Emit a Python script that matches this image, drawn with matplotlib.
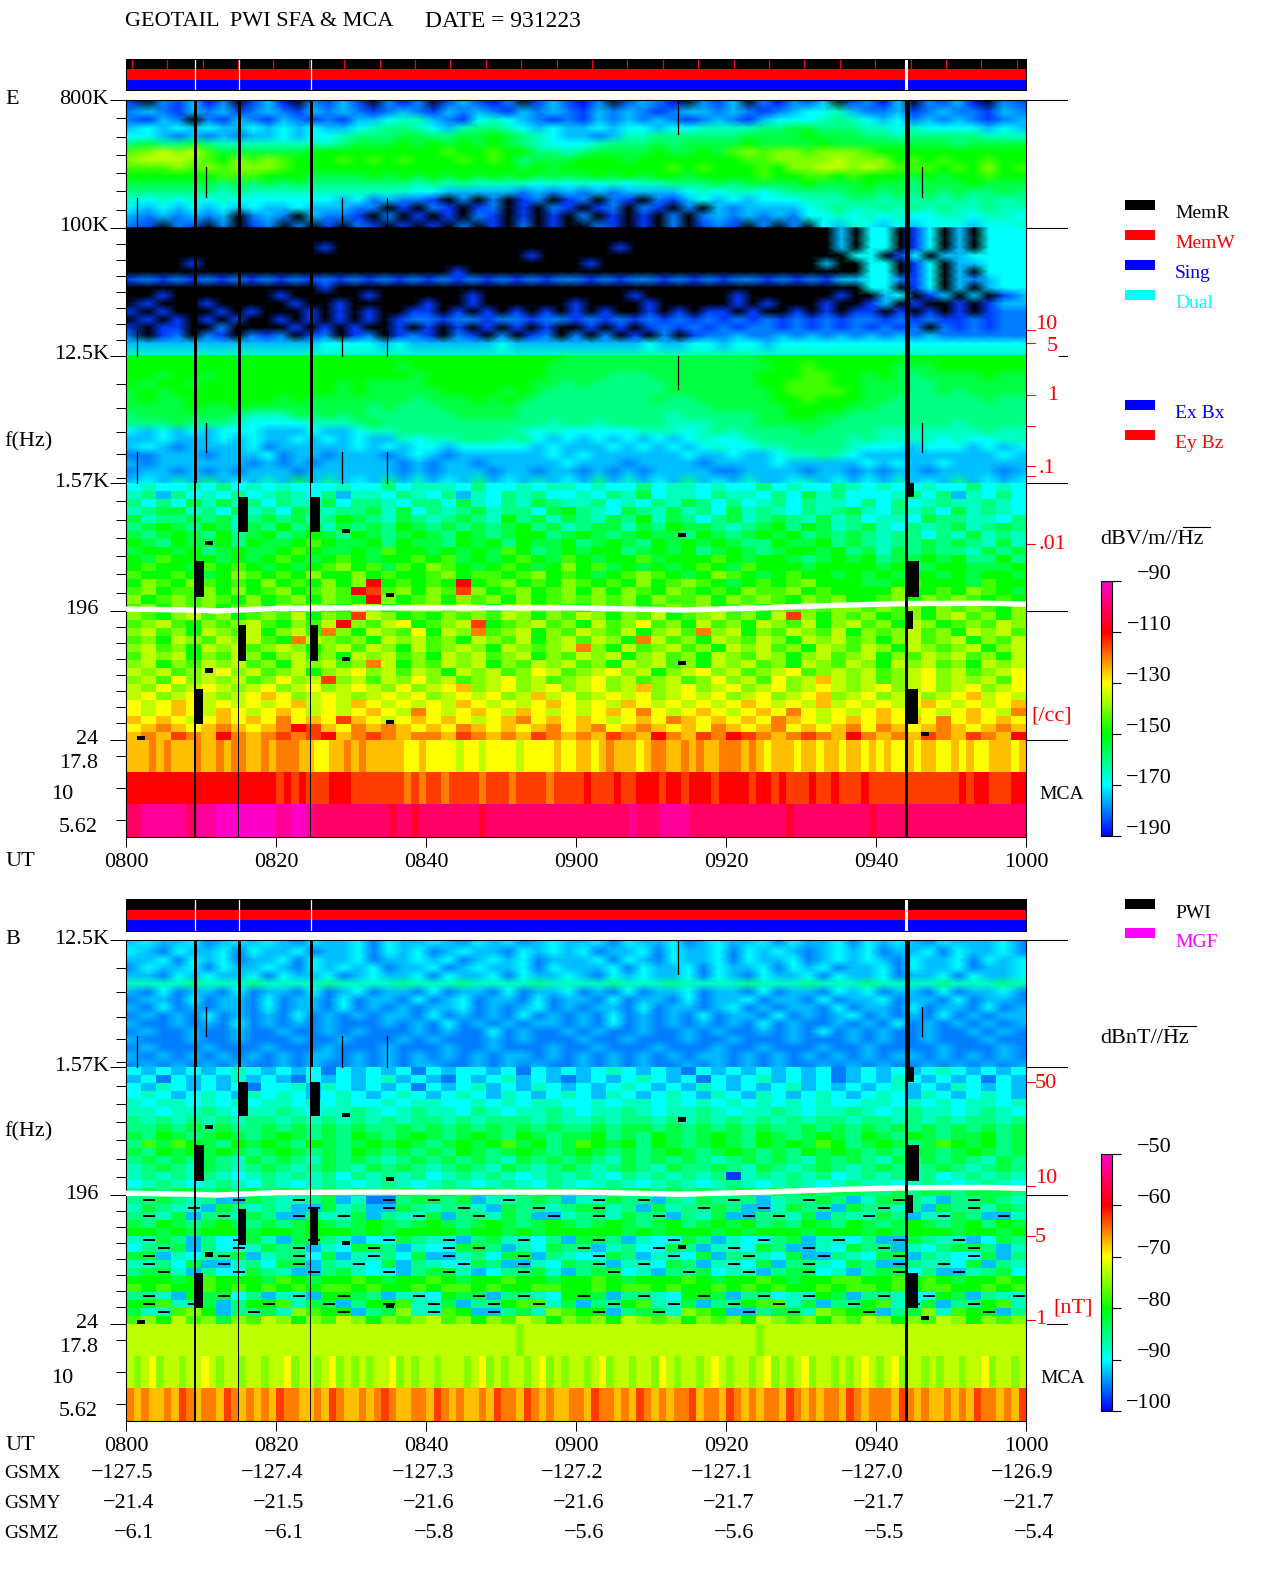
import numpy as np
import matplotlib
matplotlib.use("Agg")
import matplotlib.pyplot as plt
from matplotlib.colors import LinearSegmentedColormap, Normalize
from matplotlib.lines import Line2D
from matplotlib.patches import Rectangle

W, H = 1280, 1593
plt.rcParams['font.family'] = ['Liberation Serif', 'DejaVu Serif']

# ---- data: cell levels (0..k = bottom..top of colour bar, '.' = no signal/black)
E_HF_UPPER_ROWS = [
"1.21302.13 0.2131.202 .13102.131 02.1320.21 3.20213.12 03.2130.21",
"2321323123 2132321232 1323213232 1323212332 3212344532 2312322132",
"2132.21321 3212133455 3214543212 1323232123 2134445654 3423232123",
"3434343343 4343345665 4356654343 3434434455 5566776665 5454444343",
"4432323233 4344566677 6677876543 3235566666 6777787776 6566666555",
"6766765555 5555677787 8787876544 4566676777 7877778777 7777767777",
"9abab97777 7788888888 8988988665 6777787787 9a9aa9aaa9 8888888888",
"abbba98a9a 9888989898 8898986777 8887888888 899aaaabaa a898988988",
"999a9a9aaa 9888888888 8888887878 8888889898 8898aabbab a999898a89",
"8888889998 8877778787 8787878777 7878788788 8898899898 8878788988",
"7777776767 6766666665 6565555454 5454556667 6777787778 7767778777",
"6666665655 5555555554 4333332323 2323333454 5545666677 6767676676",
"5454545444 4444342322 1.2.2.12.1 2.21.21343 4344455566 5656565656",
"4343434343 3433322.1. 21.12.1.21 .12.21.2.3 2333345655 6565655655",
"3232323.23 2.3221.2.1 .1.21.1.1. 2.1.1.2.23 2323244545 4544554554",
"21.21.2.12 .2.1.21.1. 1.2.1.2.1. .21.1.2.12 1.2.2.4354 3434443445",
]
E_HF_LOWER_ROWS = [
".......... .......... .......... .......... ........3. 44.14.3.44",
".......... .......... .......... .......... ........3. 44.14.3.44",
".......... ...1...... .......... ...1...... ........3. 44.14.3.44",
".......... .......... .......1.. .......... ......... 44.14.3344",
"....1..... .......... .......... .1........ .......3.. 44.14.3344",
".......... .......... ..1....... .......... .......... 44.14.3.44",
"1212121212 1212121212 1212121212 2121221212 1221212133 44214.3234",
".......... ...1...... .......... .......... .......... 44.14.3.34",
"..1....... 1.....1... ...1....... ...1...... 1......1.. 34.13.3.13",
".1...1.... .1..1..... 1..1...... 1....1.... .1.1...1.. 13.1..1.13",
"1.1...1.1. ..1.1.1..1 1.1.1.1.1. 1.1..1.1.1 1.1..1.1.1 1.1.1.1.12",
".1.1.1.1.. 1.1.1.1.12 2122122122 1212121212 1212121212 2121211212",
"1.11..2... .1.1.1..1. 1.1.1.1.1. .1.1.12121 2122121212 1212.21212",
"2.12.21.21 2.12.12.12 1.21.2.12. 2.2.1.2.12 2322323232 3232322222",
"3333333333 3334444343 3333343333 3333343344 3443444444 4444444444",
"5555555555 5555555555 5555555555 5555555555 5555555555 5555555555",
]
E_MF_ROWS = [
"8888888888 8888888888 8888888887 7777777777 7788888888 8888888888",
"8888888888 8888888878 8888888877 7777777777 7778898888 8777888888",
"8878878888 8888888887 8888888877 7766677777 7788899887 8767777877",
"8788788888 8888787777 8888888776 7666667777 7788999887 7766777777",
"7878888888 8888787777 7888878766 6666667777 7778999987 7766767777",
"7877888888 7877777776 7778787666 6666676677 7778898887 7666666766",
"7777877877 7777776766 6777776666 6666666667 7777888877 6666666666",
"6777777655 5767676666 6677776666 6666665666 6677887766 6666666666",
"6667666544 4455567666 6666666656 6566665556 6677777666 6666656666",
"4343434443 3343345566 6666665454 4444555456 5666676666 5555555655",
"3343334343 3434343354 5566656434 3434343454 4566666656 5555454455",
"3432333342 3333343434 4344444343 3343434345 4455666654 4434443434",
"2233323334 2332333234 3233333343 4333333433 4334556543 3333333343",
"3233333323 2323333323 2332333334 3332333323 3334333334 3433433333",
"2332323233 3233333323 2333233233 2323233332 2333323323 2332333323",
"3435363435 3736343635 3436343534 3635343634 3533453434 3534363434",
]
E_LF_ROWS = [
"4544546454 5444544645 5546445455 4544645545 4464544654 5445446454",
"5636454645 6546355465 4635465644 5465745546 5546475644 4564635464",
"6464757564 6557466546 6475465765 5645465764 6456465546 4645655654",
"5677564756 4765667574 6567566478 6547657564 7565465675 4656475654",
"7566767567 6756876576 5676586757 6576857646 7567657564 5547665546",
"6787687576 8675767687 6767678675 6775768776 5678687567 5465675676",
"7678768678 6787687678 7687678867 8767877687 6787867676 5664657565",
"8768778687 7898778687 7687868778 6787687878 7668778676 5667676575",
"7887867877 8987787988 7878798678 7886787867 8767887867 5767665767",
"8798887878 9878987889 8978789879 8788978889 8788767878 6778786686",
"8988798987 8789a89798 a98789878a 8978787898 7988878888 7867887778",
"9889878a98 98a88a8988 9a89989a89 8789a9878a 9878988787 8788787887",
"8a98a9898a 898a8ag898 98g89a898a 9898a89a98 78989a8887 7898887988",
"9a899a8a89 a89a9gf9a8 a9fa89a89a 8a8a98a989 8a99a89888 8a8898a987",
"a89a9a98a8 9a8a98ga89 a8a9a8a89a 9a9a8a99a8 a9a98a9a88 9a8a9a9898",
"9a8a9a89a8 a9a98ba89a a9ba8ab9a9 8a9a89a9a8 9a8a9a9aa9 a9a8a9a98a",
"a98ab9a89a 9b8a9fba89 8a9a9ba8a9 ba8a9b89ab 9a8bfa8a9a 89a8ab9a8a",
"9ab98a9ab9 8a9bga9bc8 9abf89ab9a 8b9ac9a8b9 a8ba9b8ab9 a8ba89a9ba",
"ab9a8ba9b8 ab9ea8ba9c 8bae9ab8a9 ba9b8ab9ea b8a9ba9b8a 9ab9a8bab9",
"9a8ba9bab9 8eba9a8bab 9a8ba9b8ab 9ba8eb9a8b a9ba8bab9a 8ab9ab8a9b",
"ab9a8bab9a ba8ab9ba8b 9aba8ba9ab ea8b9ab9a8 bab9a8ba9b a8ba9ab8ab",
"9bab8a9ba8 ab9a8bab9a 8bab9ab8a9 bab8ab9a8b a9ba8ab9ab 8a9bab9a8b",
"ab8a9bab9a 8bab9aeb8a 9bab8a9bab 9a8bab9a8b ab9a8ba9ba 8bab9a8bab",
"bab9abcab9 ab8abcab9b a8bab9acb9 abcab8abca b9abc9abab 9abcab9abc",
"ab9cabab9a cabfab9bac ab9abcab9a bcab9ab9ac ab9cabdbab 9abcabab9c",
"bacabcbabc abcabcbaca bcdabcabca bcabdabcab cabcabcbab cabcabcabc",
"bcabcbabcd cabcbabcbc abcbcabdbc abcbcabcbc abcabcdabc abcabcdbcb",
"cbcdcbcbcb cdbcbdcbcb cbdcbcbcdc bcbdcbcbcb cdcbcbdbcb cbcdcbcbcd",
"cbcdcbdcbc dcbcbcdcbe cbcdcbdcbc bcdcecbcdc bcdcecbcbc dcbcbcdcbe",
"dcdcbcdcdc ecdcfdcbcd cdcbcdecdc dcbcdcedcd cdcedcbcdc dcdcecdcdc",
"cdedcdedcd egfdcededc dcedcdcdec decdedcdce dcdecdcdec edcdedcded",
"dedfedgede fefgdefede edfededfed edfedgedfe gfedefedge dedfedfedg",
]
E_MCA_ROWS = [
"dddededdde ddedeedded eeeddccdde dedddddccd ccccbccbcc ccbccccdcc ddcdedddcd eeddededde eededcdddc ddcddcddcd cdccdcddcc dcdccdddcd",
"gggggggggg gggggggggg fgfgfffggg fffffffefe ffeffffeff feffffefff fgfffgffgg gfggfgggfg gggfggfgff fgffgfffgf ffffffffff fgfggfffgg",
"iijjjjjjij jjkkkkkkkk jjkkjiiiii iiiiihiihi iiiiiiihii iiiiiiiiii iiiiiiijii ijjjjiiiii iiiiiiiihi iiiiiiiiih iiiiiiiiii iiiiiiiiii",
]
B_HF_ROWS = [
"3433423434 3243342433 4324342343 3424334234 3342433424 3432433342",
"4324334243 3423342434 2343324343 4233424334 2434323434 2334243342",
"3342434233 4243342334 3423434233 3424324334 2433423434 3243342434",
"2433424334 3243434233 4234334243 3342433424 3342434233 4243342334",
"3324343342 4334234334 2433424334 3243433424 3243342433 4233424334",
"5555655565 5556555565 5565555655 5565556555 5655565556 5555655565",
"3242332423 3242342332 4233242334 2324233423 3242332434 2332423342",
"2332423324 2332423324 2342332423 3242332423 3423324233 4233242332",
"3242323324 2332423232 3342323423 2332423323 4232332423 3242332423",
"2323242323 2423232332 4232324232 3242323242 3324232342 3232423233",
"3223232423 2323222323 2423232332 3242323232 3242322323 2423232323",
"2322322322 3223232223 2322423223 2322322323 2232324232 3223223232",
"3222322322 2322322232 3222323222 3223222322 3222322232 3223222322",
"2322232223 2223222322 2322322232 2322232223 2232223223 2222322232",
"3232323232 3233232323 2323233232 3232323233 2323232323 2332323232",
"2323232322 3232232323 3223232322 3232322323 2323223232 3223232323",
]
B_LF_ROWS = [
"4343434543 4342434342 4344342434 3454343243 4343434234 3434543434",
"3424343534 3243434534 3243453432 3434543424 3453434234 3543434243",
"4354343424 4535434342 4345343543 4345434354 3434534343 4534354343",
"4543454354 5434543454 3454354345 4354345435 4354345434 5435434543",
"5455454545 5454544545 5445454554 4545545454 5454545445 5454545545",
"5545565455 6545565456 5546545565 4556545565 4556545565 4565545654",
"6565656566 5656565656 6565666565 5656656565 6565656656 6565656656",
"6676767667 6767676676 7676767676 6767767676 7676676767 6767676767",
"7687678767 8767687678 7678768767 7867687678 7687678768 7687677867",
"6979876878 7687678787 6787897867 9878687678 7687879867 8767987867",
"7687878767 8767687676 7687678767 8767678767 8767687876 7687678767",
"6767676576 7657676567 6767657676 7657676765 6767657676 5767676576",
"5676576567 6567657676 5676576567 6567657667 6576567656 7656765676",
"5656565456 5656465656 4565654565 6546565656 1565656456 5656456565",
"4565456546 5456545654 5654565465 4565456545 6545654565 5456545654",
"6767767676 7767676776 6767767676 7767767676 7767676776 6767767776",
"6.76563.76 5.67352.67 .6735.6763 5.76.36576 .6356.7635 7.6536.765",
"5765.37656 53.7563.76 56.5376.56 7.563756.7 63.576.376 .56376.576",
"6.5736.576 3.65.7365. 736.5763.5 6.576.3657 3.6.57365. 7635.763.5",
"7687678767 6787678767 8767876787 6787678678 7867687687 6787678687",
"8878788878 8788878788 8878878788 8887878887 8788878887 8788878878",
"5.76364.75 37.6534.76 5.3675.463 7.6354.763 54.6735.46 3.765.3476",
"46.7364.57 6.3547.635 4.7.635476 .3564.7635 .4763.5476 .35467.635",
"7.3546.735 6.4735.647 3.5647.365 4.7635.473 6.5473.654 7.3654.736",
"5.6473.564 7.365.4736 54.763.547 6.35.47635 .4736.5476 3.65.47365",
"67.5364.76 53.6754.36 7.5346.753 67.4536.74 5.367.4536 7.463.5674",
"8887898887 9878898788 9878898878 8987888987 8898788998 8989878898",
"9898898989 8989989889 8998988998 8989989889 8989889899 8989988989",
"6.5387.463 5.38.7635. 487.36.548 .736.548.7 36.45.8736 .54.87365.",
"8.95.7368. 957.368.95 .736.89.57 36.895.736 .89.5736.8 95.736.895",
"75.9a836.7 5a98.367a5 .983.675a9 8.367.5a98 3.67.5a98. 367a598.36",
"9a8b9a7a9b a8a9ba8a9a b9a8a9ba8a 9a8ba9a8a9 a8ba9a8a9b a8a9ba8a9a",
]
B_MCA_ROWS = [
"bbbbbbbbbb bbbbbbbbbb bbbbbbbbbb bbbbbbbbbb bbbbbbbbbb bbabbbbbbb bbbbbbbbbb bbbbbbbbbb bbbbabbbbb bbbbbbbbbb bbbbbbbbbb bbbbbbbbbb",
"babcabbabb cbabbabbab bcabbabcab ababbcabab babbbabcab abbabcabab babcabbabb acbabbabcb abbabcabab cabbababcb abcabbabab babbcabbab",
"ededdedfed eedfededed feeddedfed dedefeddee dfededdedf eedfededde edfeededfe dedeefdeed fededeedfe dedeedfede eedfededde dedfeededf",
]
LEVELS = "0123456789abcdefghijk"

E_DB_RANGE = (-190, -90)
B_DB_RANGE = (-100, -50)
E_CB_TICKS = [-190, -170, -150, -130, -110, -90]
B_CB_TICKS = [-100, -90, -80, -70, -60, -50]

HOURS = ['0800', '0820', '0840', '0900', '0920', '0940', '1000']
TIME_TICKS = [0, 20, 40, 60, 80, 100, 120]
GSMX = ['\u2212127.5', '\u2212127.4', '\u2212127.3', '\u2212127.2', '\u2212127.1', '\u2212127.0', '\u2212126.9']
GSMY = ['\u221221.4', '\u221221.5', '\u221221.6', '\u221221.6', '\u221221.7', '\u221221.7', '\u221221.7']
GSMZ = ['\u22126.1', '\u22126.1', '\u22125.8', '\u22125.6', '\u22125.6', '\u22125.5', '\u22125.4']

# white trace: minutes after 0800, frequency in Hz
TRACE_T = [0, 9, 12, 20, 30, 40, 60, 70, 74, 85, 95, 104, 115, 120]
TRACE_F = [202, 199, 196, 204, 206, 206, 206, 201, 199, 206, 215, 221, 222, 219]

# data gaps: minute, widths at high and at low frequency
GAP_T = [9.07, 14.93, 24.53, 103.87]
GAP_W_HF = [0.35, 0.35, 0.35, 0.67]
GAP_W_LF = [0.2, 0.2, 0.2, 0.4]
# black blocks: t0, t1, f_low, f_high
BLOCKS = [
    (9.07, 10.4, 247, 443), (9.07, 10.2, 31, 55),
    (14.93, 16.27, 708, 1247), (14.93, 16.0, 87, 156),
    (24.53, 25.87, 708, 1247), (24.53, 25.6, 87, 156),
    (103.87, 105.73, 247, 443), (103.87, 105.6, 31, 55),
    (103.87, 105.0, 1247, 1570), (103.87, 104.9, 146, 196),
    (10.53, 11.6, 71, 78), (10.53, 11.6, 572, 612),
    (28.8, 29.87, 87, 93), (28.8, 29.87, 698, 743),
    (34.67, 35.73, 31, 33), (34.67, 35.73, 247, 264),
    (1.47, 2.53, 24, 25.6),
    (73.6, 74.67, 81, 87), (73.6, 74.67, 650, 698),
    (106.0, 107.07, 25.7, 27.5),
]
# thin instrument dropouts: minute, f_low, f_high
E_DROPS = [
    (1.47, 100e3, 162e3), (1.47, 12.5e3, 18.9e3), (1.47, 1.57e3, 2.6e3),
    (10.6, 165e3, 269e3), (10.6, 2.6e3, 4.2e3),
    (28.8, 100e3, 162e3), (28.8, 12.5e3, 18.9e3), (28.8, 1.57e3, 2.6e3),
    (34.8, 100e3, 162e3), (34.8, 12.5e3, 18.9e3), (34.8, 1.57e3, 2.6e3),
    (73.6, 460e3, 800e3), (73.6, 7.2e3, 12.5e3),
    (106.1, 165e3, 269e3), (106.1, 2.6e3, 4.2e3),
]
B_DROPS = [
    (1.47, 1.57e3, 2.6e3), (10.6, 2.6e3, 4.2e3), (28.8, 1.57e3, 2.6e3),
    (34.8, 1.57e3, 2.6e3), (73.6, 7.2e3, 12.5e3), (106.1, 2.6e3, 4.2e3),
]
MF_MINOR = [7900, 5350, 3590, 2500, 1700]
MCA_EDGES = [24, 13.34, 7.5, 4.2]
ANCHOR_F = [4.2, 5.62, 10, 17.8, 24, 800000]
ANCHOR_P = [-97, -80, -48, -16, 0, 640]
E_DENSITY = [('10', 18900), ('5', 15400), ('1', 6600), ('', 3960), ('.1', 2070), ('', 1750), ('.01', 584)]
B_DENSITY = [('50', 1247), ('10', 226), ('5', 100), ('1', 25.6)]
SFA_RED_TICK_T0, SFA_RED_TICK_STEP = 0.76, 4.72


def decode(rows, db_range):
    lo, hi = db_range
    out = []
    n = max(len(r.replace(' ', '')) for r in rows)
    for r in rows:
        s = r.replace(' ', '')
        s = (s + s[-1] * n)[:n]
        out.append([np.nan if c == '.' else lo + LEVELS.index(c) * (hi - lo) / 20 for c in s])
    return np.array(out)


cmap = LinearSegmentedColormap.from_list('geotail', [
    (0.0, (0, 0, 1)), (0.2, (0, 1, 1)), (0.4, (0, 1, 0)),
    (0.6, (1, 1, 0)), (0.8, (1, 0, 0)), (1.0, (1, 0, 200 / 255))], N=256)
cmap.set_bad('black')


def fwd(f):
    return np.interp(np.log2(np.maximum(f, 1e-3)), np.log2(ANCHOR_F), ANCHOR_P)


def inv(p):
    return 2 ** np.interp(p, ANCHOR_P, np.log2(ANCHOR_F))


fig = plt.figure(figsize=(W / 100, H / 100), dpi=100, facecolor='white')
FS = 16


def box(x0, y0, x1, y1):
    return fig.add_axes([x0 / W, 1 - y1 / H, (x1 - x0) / W, (y1 - y0) / H])


def txt(x, y, s, color='black', ha='left', size=FS):
    return fig.text(x / W, 1 - (y + 1.5) / H, s, color=color, ha=ha, va='center', fontsize=size)


def rect(x0, y0, x1, y1, color):
    fig.add_artist(Rectangle((x0 / W, 1 - y1 / H), (x1 - x0) / W, (y1 - y0) / H,
                             transform=fig.transFigure, color=color, lw=0))


def status_bar(y0, y1, red_ticks):
    a = box(126, y0, 1026, y1)
    a.set_xlim(0, 120)
    a.set_ylim(0, 3)
    for i, c in enumerate(['blue', 'red', 'black']):
        a.axhspan(i, i + 1, color=c, lw=0)
    if red_ticks:
        a.vlines(np.arange(SFA_RED_TICK_T0, 120, SFA_RED_TICK_STEP), 2, 3, color='red', lw=0.9)
    for t, lw in zip(GAP_T, [0.9, 0.9, 0.9, 2.2]):
        a.axvline(t + 0.1, color='white', lw=lw)
    a.set_xticks([])
    a.set_yticks([])
    for s in a.spines.values():
        s.set_linewidth(0.72)


def panel(y0, y1, fmax, blocks_of_rows, mca_rows, db_range, drops):
    ax = box(126, y0, 1026, y1)
    ax.set_facecolor('black')
    ax.set_yscale('function', functions=(fwd, inv))
    vmin, vmax = db_range
    norm = Normalize(vmin, vmax)
    mesh = None
    for rows, f_hi, f_lo, mode in blocks_of_rows:
        z = decode(rows, db_range)
        fe = np.geomspace(f_hi, f_lo, z.shape[0] + 1)
        te = np.linspace(0, 120, z.shape[1] + 1)
        if mode == 'smooth':
            # the reference resolves this band far finer than a readable grid: blend cell colours
            rgb = cmap(norm(np.ma.masked_invalid(z)))
            tc = 0.5 * (te[:-1] + te[1:])
            fc = np.sqrt(fe[:-1] * fe[1:])
            tc[0], tc[-1] = te[0], te[-1]
            fc[0], fc[-1] = fe[0], fe[-1]
            ax.pcolormesh(tc, fc, rgb, shading='gouraud')
        else:
            dash = np.isnan(z)
            if dash.any():
                filler = np.where(dash, np.roll(z, 1, axis=1), z)
                filler = np.where(np.isnan(filler), vmin + 0.2 * (vmax - vmin), filler)
                mesh = ax.pcolormesh(te, fe, filler, cmap=cmap, vmin=vmin, vmax=vmax, shading='flat')
                rr, cc = np.nonzero(dash)
                ax.hlines(np.sqrt(fe[rr] * fe[rr + 1]), te[cc] + 0.2, te[cc + 1] - 0.1,
                          color='black', lw=1.4, zorder=2)
            else:
                mesh = ax.pcolormesh(te, fe, z, cmap=cmap, vmin=vmin, vmax=vmax, shading='flat')
    z = decode(mca_rows, db_range)
    ax.pcolormesh(np.linspace(0, 120, z.shape[1] + 1), MCA_EDGES, z, cmap=cmap, vmin=vmin, vmax=vmax, shading='flat')
    ax.plot(TRACE_T, TRACE_F, color='white', lw=3.9, solid_capstyle='butt', zorder=3)
    for t0, t1, fl, fh in BLOCKS:
        ax.fill_between([t0, t1], fl, fh, color='black', lw=0, zorder=4)
    for t, wh, wl in zip(GAP_T, GAP_W_HF, GAP_W_LF):
        ax.fill_between([t, t + wh], 1570, fmax, color='black', lw=0, zorder=4)
        ax.fill_between([t, t + wl], 4.2, 1570, color='black', lw=0, zorder=4)
    for t, fl, fh in drops:
        ax.plot([t, t], [fl, fh], color='black', lw=0.9, zorder=4)
    ax.set_xlim(0, 120)
    ax.set_ylim(4.2, fmax)
    ax.set_xticks(TIME_TICKS, HOURS, fontsize=FS)
    ax.tick_params(axis='x', length=7.2, width=0.72, pad=4)
    for s in ax.spines.values():
        s.set_linewidth(0.8)
    return ax, mesh


def yticks(ax, fmax, right_short):
    majors = [f for f in [800000, 100000, 12500, 1570, 196, 24] if f <= fmax]
    mca = [17.8, 10, 5.62]
    ax.set_yticks(majors, [''] * len(majors))
    minors = list(mca) + list(MF_MINOR)
    minors += [196 * 8 ** (-i / 8) for i in range(1, 8)]
    minors += [1570 * (1570 / 196) ** (-i / 7) for i in range(1, 7)]
    if fmax > 12500:
        minors += [100000 * 8 ** (-i / 8) for i in range(1, 8)]
        minors += [800000 * 8 ** (-i / 7) for i in range(1, 7)]
    ax.set_yticks(minors, minor=True)
    ax.set_yticklabels([''] * len(minors), minor=True)
    ax.tick_params(axis='y', which='major', length=11.5, width=0.72)
    ax.tick_params(axis='y', which='minor', length=7.2, width=0.72)
    labs = {800000: ('800K', -17, 1), 100000: ('100K', -17, 1), 12500: ('12.5K', -17, 1),
            1570: ('1.57K', -17, 1), 196: ('196', -28, 1), 24: ('24', -28, 1),
            17.8: ('17.8', -28, -7), 10: ('10', -53, -6), 5.62: ('5.62', -28, -7)}
    for f, (s, dx, dy) in labs.items():
        if f <= fmax:
            ax.annotate(s, xy=(0, f), xycoords=('axes fraction', 'data'), xytext=(dx, dy),
                        textcoords='offset pixels', ha='right', va='center', fontsize=FS)
    tr = ax.get_yaxis_transform()
    for f in majors:
        start = right_short.get(f, 1026)
        ax.plot([(start - 126) / 900, 941 / 900], [f, f], color='black', lw=0.8, transform=tr,
                clip_on=False, scalex=False, scaley=False)


def red_ticks(ax, items, xs, ys):
    tr = ax.get_yaxis_transform()
    for (s, f), x, y in zip(items, xs, ys):
        ax.plot([1, 1 + 9 / 900], [f, f], color='red', lw=0.8, transform=tr, clip_on=False,
                scalex=False, scaley=False)
        if s:
            txt(x, y, s, color='red')


def colorbar(mesh, y0, y1, ticks):
    cax = box(1101, y0, 1112, y1)
    cb = fig.colorbar(mesh, cax=cax)
    cb.set_ticks(ticks, labels=[''] * len(ticks))
    cb.minorticks_off()
    cax.tick_params(length=6.5, width=0.8)
    cb.outline.set_linewidth(0.8)
    for v in ticks:
        cax.annotate('\u2212%d' % abs(v), xy=(1, v), xycoords=('axes fraction', 'data'),
                     xytext=(60, 7), textcoords='offset pixels', ha='right', va='center', fontsize=FS)


# ---- panels
status_bar(59, 90, True)
axE, meshE = panel(100, 837, 800000,
                   [(E_HF_UPPER_ROWS, 800000, 100000, 'smooth'), (E_HF_LOWER_ROWS, 100000, 12500, 'smooth'),
                    (E_MF_ROWS, 12500, 1570, 'smooth'), (E_LF_ROWS, 1570, 24, 'flat')],
                   E_MCA_ROWS, E_DB_RANGE, E_DROPS)
yticks(axE, 800000, {12500: 1059})
red_ticks(axE, E_DENSITY, [1035, 1047, 1047, 0, 1038, 0, 1038], [323, 345, 394, 0, 467, 0, 543])

status_bar(899, 931, False)
axB, meshB = panel(940, 1421, 12500,
                   [(B_HF_ROWS, 12500, 1570, 'smooth'), (B_LF_ROWS, 1570, 24, 'flat')],
                   B_MCA_ROWS, B_DB_RANGE, B_DROPS)
yticks(axB, 12500, {24: 1047})
red_ticks(axB, B_DENSITY, [1035, 1035, 1035, 1035], [1082, 1177, 1236, 1318])

colorbar(meshE, 581, 836, E_CB_TICKS)
colorbar(meshB, 1154, 1411, B_CB_TICKS)

# ---- texts
txt(125, 20, 'GEOTAIL  PWI SFA & MCA')
txt(425, 20, 'DATE = 931223', size=17)
txt(5, 98, 'E')
txt(5, 938, 'B')
txt(4, 440, 'f(Hz)')
txt(4, 1130, 'f(Hz)')
txt(5, 860, 'UT')
txt(5, 1444, 'UT')
txt(1039, 793, 'MCA', size=14)
txt(1040, 1377, 'MCA', size=14)
txt(1031, 714, '[/cc]', color='red')
txt(1053, 1306, '[nT]', color='red')
txt(1100, 538, 'dBV/m//Hz')
txt(1100, 1037, 'dBnT//Hz')
fig.add_artist(Line2D([1183 / W, 1210 / W], [1 - 527 / H] * 2, color='black', lw=0.8))
fig.add_artist(Line2D([1168 / W, 1196 / W], [1 - 1026 / H] * 2, color='black', lw=0.8))

for name, vals, y in [('GSMX', GSMX, 1472), ('GSMY', GSMY, 1501.5), ('GSMZ', GSMZ, 1532)]:
    txt(4, y, name, size=14)
    for t, v in zip(TIME_TICKS, vals):
        txt(126 + t * 7.5 + 28, y, v, ha='right')

for (name, color), y in zip([('MemR', 'black'), ('MemW', 'red'), ('Sing', 'blue'), ('Dual', 'cyan')],
                            [200, 230, 260, 290]):
    rect(1125, y, 1155, y + 10, color)
    txt(1175, y + 12, name, color=color, size=14)
for (name, color), y in zip([('Ex Bx', 'blue'), ('Ey Bz', 'red')], [400, 430]):
    rect(1125, y, 1155, y + 10, color)
    txt(1175, y + 12, name, color=color, size=14)
for (name, color), y in zip([('PWI', 'black'), ('MGF', 'magenta')], [899, 928]):
    rect(1125, y, 1155, y + 10, color)
    txt(1175, y + 13, name, color=color, size=14)

fig.savefig('out.png', dpi=100, facecolor='white')
